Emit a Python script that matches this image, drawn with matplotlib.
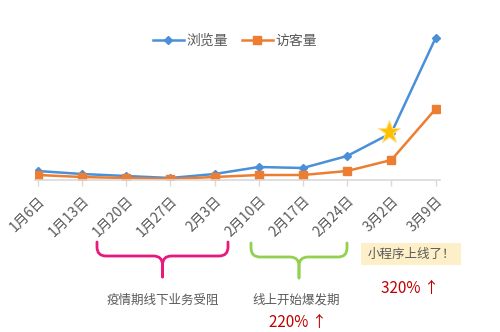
import matplotlib.pyplot as plt
from matplotlib.path import Path
from matplotlib.patches import PathPatch, FancyBboxPatch

plt.rcParams['font.family'] = ['Noto Sans CJK SC', 'DejaVu Sans']

# weekly data
weeks = ['1月6日', '1月13日', '1月20日', '1月27日', '2月3日',
         '2月10日', '2月17日', '2月24日', '3月2日', '3月9日']
views = [9, 6, 4, 2, 6, 13, 12, 24, 47, 142]
visitors = [5, 3, 2, 1, 3, 5, 5, 9, 20, 71]
launch_week = 8

W, H = 500, 332
fig = plt.figure(figsize=(W / 100, H / 100), dpi=100)


def fx(px):
    return px / W


def fy(py):
    return 1 - py / H


# plot area: 35..440 px wide, baseline at y=180 px
ax = fig.add_axes([fx(35), fy(180), fx(405), 150 / H])
x = list(range(len(weeks)))
ax.plot(x, views, color='#4a90d9', lw=1.8, marker='D', ms=4, label='浏览量')
ax.plot(x, visitors, color='#ed7d31', lw=1.8, marker='s', ms=6, label='访客量')
ax.plot(launch_week - 0.05, views[launch_week] + 1, marker='*', ms=17,
        color='#ffc000', mec='#ffe08a', mew=0.8, zorder=5)

ax.set_xlim(-0.06, 9.1)
ax.set_ylim(0, 150)
for s in ['top', 'right', 'left']:
    ax.spines[s].set_visible(False)
ax.spines['bottom'].set_color('#d9d9d9')
ax.spines['bottom'].set_linewidth(1.2)
ax.set_yticks([])
ax.set_xticks(x)
ax.set_xticklabels(weeks, rotation=45, ha='right', va='top',
                   rotation_mode='anchor', fontsize=10, color='#595959')
ax.tick_params(axis='x', length=4, color='#d9d9d9', width=1, pad=6)

leg = ax.legend(loc='upper center', bbox_to_anchor=(fx(235 - 35) / fx(405), 1.06),
                ncol=2, frameon=False, fontsize=10, handlelength=2.2,
                handletextpad=0.2, columnspacing=1.0, labelcolor='#595959')


def brace(x0, x1, y0, ym, color):
    # downward-facing curly brace in pixel coordinates
    xm = (x0 + x1) / 2
    yl = y0 + 14
    r = 9
    for xe, sgn in ((x0, 1), (x1, -1)):
        v = [(xe, y0), (xe, yl - r), (xe, yl), (xe + sgn * r, yl),
             (xm - sgn * r, yl), (xm, yl), (xm, yl + r), (xm, ym)]
        c = [Path.MOVETO, Path.LINETO, Path.CURVE3, Path.CURVE3,
             Path.LINETO, Path.CURVE3, Path.CURVE3, Path.LINETO]
        p = Path([(fx(a), fy(b)) for a, b in v], c)
        fig.add_artist(PathPatch(p, fill=False, ec=color, lw=2,
                                 transform=fig.transFigure, capstyle='round'))


brace(97, 228, 242, 277, '#e8197c')
brace(251, 347, 243, 278, '#92d050')

fig.text(fx(163), fy(300), '疫情期线下业务受阻', fontsize=9, color='#595959',
         ha='center', va='center')
fig.text(fx(296), fy(300), '线上开始爆发期', fontsize=9, color='#595959',
         ha='center', va='center')
fig.text(fx(298), fy(323), '220% ↑', fontsize=11, color='#c00000',
         ha='center', va='center')
fig.text(fx(410), fy(288), '320% ↑', fontsize=11, color='#c00000',
         ha='center', va='center')

box = FancyBboxPatch((fx(361), fy(265)), fx(100), 22 / H, boxstyle='square,pad=0',
                     transform=fig.transFigure, fc='#fdefc8', ec='none')
fig.add_artist(box)
fig.text(fx(411), fy(254), '小程序上线了！', fontsize=9, color='#595959',
         ha='center', va='center')

fig.savefig('out.png', dpi=100)
